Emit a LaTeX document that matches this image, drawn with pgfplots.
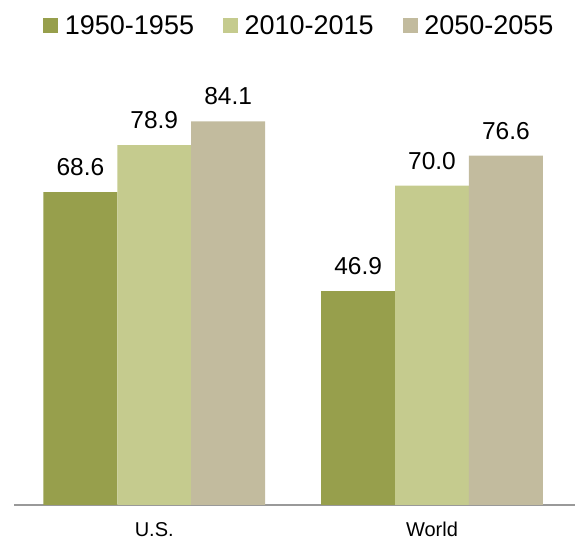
\documentclass[border=0pt]{standalone}
\usepackage{fontspec}
\setmainfont{Liberation Sans}
\usepackage{pgfplots}
\pgfplotsset{compat=1.18}

\definecolor{colA}{RGB}{151,159,76}
\definecolor{colB}{RGB}{197,203,142}
\definecolor{colC}{RGB}{194,187,158}

\pgfplotsset{
  sq legend/.style={legend image code/.code={\fill[##1] (0bp,-7.5bp) rectangle (15bp,7.5bp);}},
}

\begin{document}
\begin{tikzpicture}
\begin{axis}[
    scale only axis,
    width=561bp, height=456.25bp,
    xmin=-0.505, xmax=1.515,
    ymin=0, ymax=100,
    axis y line=none,
    axis x line*=bottom,
    x axis line style={draw=black!40, line width=2bp, -},
    xtick={0,1},
    xticklabels={U.S., World},
    major tick length=0pt,
    xticklabel style={font=\fontsize{20bp}{24bp}\selectfont, inner sep=0pt, yshift=-17bp},
    ybar, bar width=0.266,
    nodes near coords={\pgfmathprintnumber[fixed, fixed zerofill, precision=1, assume math mode=true]{\pgfplotspointmeta}},
    every node near coord/.append style={font=\fontsize{24.5bp}{28bp}\selectfont, inner sep=0pt, yshift=16bp, black},
    legend columns=3,
    legend style={at={(0.507,1.05)}, anchor=center, draw=none, fill=none,
                  font=\fontsize{27bp}{30bp}\selectfont,
                  nodes={inner sep=0pt},
                  /tikz/every odd column/.append style={column sep=6.6bp},
                  /tikz/every even column/.append style={column sep=29bp}},
]
\addplot[fill=colA, draw=none, bar shift=-0.266, sq legend] coordinates {(0,68.6) (1,46.9)};
\addlegendentry{1950-1955}
\addplot[fill=colB, draw=none, bar shift=0, sq legend] coordinates {(0,78.9) (1,70.0)};
\addlegendentry{2010-2015}
\addplot[fill=colC, draw=none, bar shift=0.266, sq legend] coordinates {(0,84.1) (1,76.6)};
\addlegendentry{2050-2055}
\end{axis}
\pgfresetboundingbox
\path[use as bounding box] ([shift={(-14bp,-39bp)}]current axis.south west) rectangle ([shift={(561bp,505bp)}]current axis.south west);
\end{tikzpicture}
\end{document}
